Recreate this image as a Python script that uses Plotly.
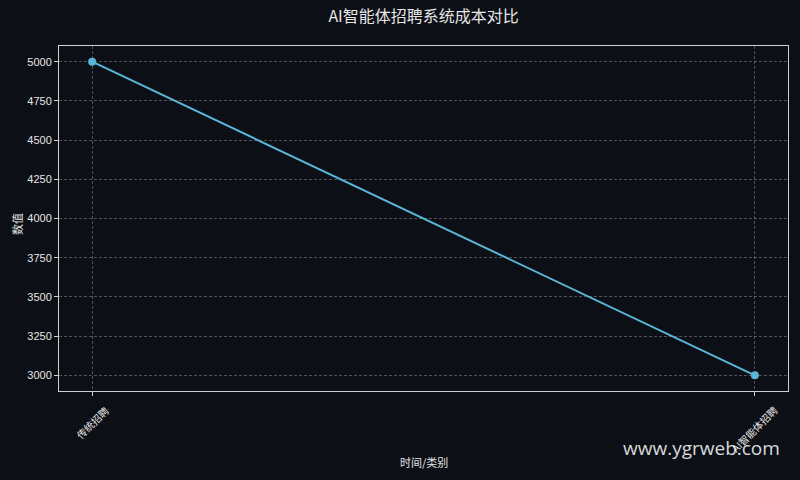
import plotly.graph_objects as go

categories = ["传统招聘", "AI智能体招聘"]
values = [5000, 3000]
y_ticks = [3000, 3250, 3500, 3750, 4000, 4250, 4500, 4750, 5000]

BG = "#0c0f15"
LINE = "#5ab6d8"
GRID = "rgba(150,150,150,0.5)"
TXT = "#e6e6e6"
FONT = "Liberation Sans, Noto Sans CJK SC, sans-serif"
CJK = "Noto Sans CJK SC, sans-serif"

fig = go.Figure()
fig.add_trace(go.Scatter(
    x=list(range(len(categories))), y=values, mode="lines+markers",
    line=dict(color=LINE, width=2),
    marker=dict(color=LINE, size=8),
    showlegend=False,
))

fig.update_layout(
    width=800, height=480,
    paper_bgcolor=BG, plot_bgcolor=BG,
    margin=dict(l=59, r=12, t=46, b=89),
    font=dict(family=FONT, color=TXT, size=11),
    title=dict(text="AI智能体招聘系统成本对比", x=0.5295, xanchor="center",
               y=0.965, yanchor="middle",
               font=dict(size=16, color=TXT, family=CJK)),
    xaxis=dict(
        range=[-0.05, len(categories) - 1 + 0.05], tickmode="array",
        tickvals=list(range(len(categories))), showticklabels=False,
        showgrid=True, gridcolor=GRID, griddash="3px,2px", gridwidth=1,
        zeroline=False, showline=True, linecolor="#d0d0d0", linewidth=1, mirror=True,
        ticks="outside", ticklen=4, tickcolor="#d0d0d0", automargin=False,
    ),
    yaxis=dict(
        range=[2900, 5100], tickmode="array", tickvals=y_ticks,
        ticktext=[str(v) for v in y_ticks],
        showgrid=True, gridcolor=GRID, griddash="3px,2px", gridwidth=1,
        zeroline=False, showline=True, linecolor="#d0d0d0", linewidth=1, mirror=True,
        ticks="outside", ticklen=4, tickcolor="#d0d0d0", automargin=False,
        tickfont=dict(size=11, color=TXT, family=FONT),
    ),
)

# category labels, rotated 45° and centred under each tick
for i, cat in enumerate(categories):
    fig.add_annotation(
        text=cat, xref="x", yref="paper", x=i, y=-0.026,
        xanchor="center", yanchor="top", textangle=-45, showarrow=False,
        font=dict(size=10, color=TXT, family=CJK),
    )

fig.add_annotation(
    text="时间/类别", xref="paper", yref="paper", x=0.5, y=-0.2058,
    xanchor="center", yanchor="middle", showarrow=False,
    font=dict(size=11, color=TXT, family=CJK),
)
fig.add_annotation(
    text="数值", xref="paper", yref="paper", x=-0.0576, y=0.484, textangle=-90,
    xanchor="center", yanchor="middle", showarrow=False,
    font=dict(size=11, color=TXT, family=CJK),
)
fig.add_annotation(
    text="www.ygrweb.com", xref="paper", yref="paper",
    x=0.992, y=-0.165, xanchor="right", yanchor="middle", showarrow=False,
    font=dict(size=19, color="rgba(255,255,255,0.85)", family="Open Sans, sans-serif"),
)

fig.write_html("out.html", config={"displayModeBar": False},
               post_script="document.body.style.margin='0';document.body.style.overflow='hidden';document.body.style.background='" + BG + "';")
